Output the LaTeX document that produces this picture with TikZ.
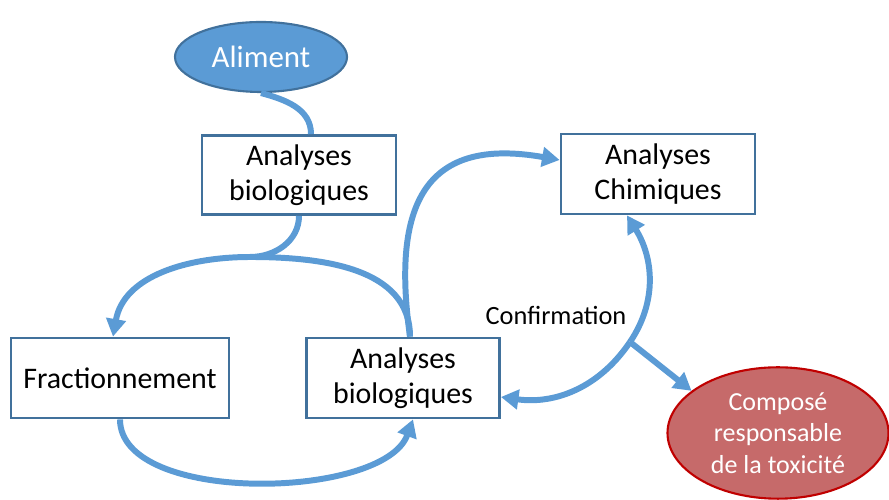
\documentclass[tikz,border=0pt]{standalone}
\usepackage{fontspec}
\setmainfont{Carlito}
\usetikzlibrary{shapes.geometric,arrows.meta}
\definecolor{lineblue}{RGB}{91,155,213}
\definecolor{boxblue}{RGB}{65,113,156}
\definecolor{redfill}{RGB}{198,106,106}
\definecolor{redline}{RGB}{192,0,0}

\begin{document}
\begin{tikzpicture}[
  box/.style={draw=boxblue, fill=white, line width=1.6pt, align=center, minimum width=3.88cm, minimum height=1.58cm, font=\fontsize{17}{20}\selectfont},
  flow/.style={draw=lineblue, line width=3.4pt},
  tip/.style={-{Triangle[length=10pt,width=11pt]}}]
  \useasboundingbox (0,0) rectangle (17.78,10);

  \draw[line width=0pt]
    (5.22,8.86) node[ellipse, draw=boxblue, line width=1.2pt, fill=lineblue, text=white, minimum width=3.44cm, minimum height=1.4cm, font=\fontsize{17.6}{20}\selectfont] (aliment) {Aliment}
    (5.98,6.5) node[box] (bio1) {Analyses\\biologiques}
    (13.16,6.52) node[box, minimum height=1.6cm] (chim) {Analyses\\Chimiques}
    (2.4,2.44) node[box, minimum width=4.36cm, minimum height=1.6cm] (frac) {Fractionnement}
    (8.06,2.44) node[box, minimum width=3.86cm, minimum height=1.6cm] (bio2) {Analyses\\biologiques}
    (15.56,1.34) node[ellipse, draw=redline, line width=1.2pt, fill=redfill, text=white, align=center, minimum width=4.42cm, minimum height=2.6cm, font=\fontsize{14.8}{18}\selectfont] (compose) {Composé\\responsable\\de la toxicité}
    (11.12,3.7) node[font=\fontsize{15}{18}\selectfont] (conf) {Confirmation};

  \coordinate (j1) at (5.0,4.86);
  \coordinate (j2) at (12.6,3.16);

  \draw[flow] (aliment.south) to[out=-15,in=90] ([xshift=0.24cm]bio1.north);
  \draw[flow] (bio1.south) to[out=-90,in=0] (j1);
  \draw[flow,tip] (j1) to[out=180,in=80] ([xshift=-0.14cm]frac.north);
  \draw[flow] (j1) to[out=0,in=90] ([xshift=0.14cm]bio2.north);
  \draw[flow,tip] ([xshift=0.14cm]bio2.north) to[out=98,in=170,looseness=1.5] ([yshift=0.28cm]chim.west);
  \draw[flow,tip] (frac.south) to[out=-90,in=-110,looseness=0.75] ([xshift=0.2cm]bio2.south);
  \draw[flow,tip] (j2) to[out=56,in=-58] ([xshift=-0.62cm]chim.south);
  \draw[flow,tip] (j2) to[out=236,in=-8] ([yshift=-0.38cm]bio2.east);
  \draw[flow,tip] (j2) -- (compose.154);
\end{tikzpicture}
\end{document}
